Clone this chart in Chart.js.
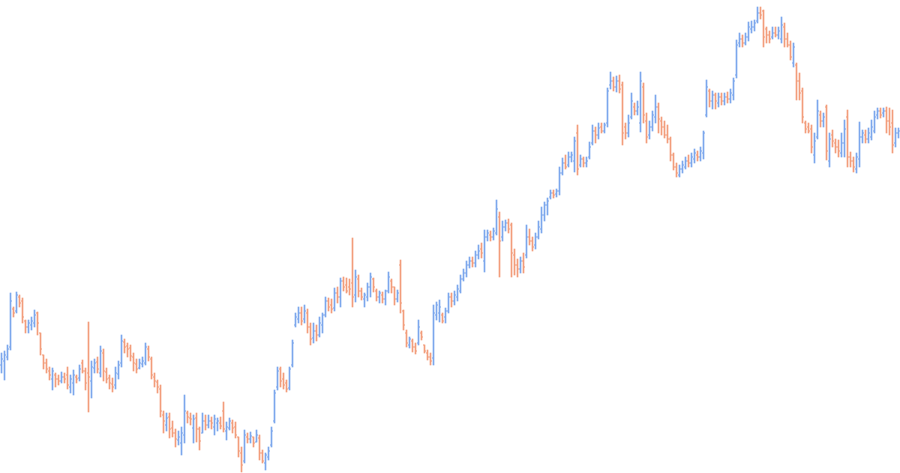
<!DOCTYPE html>
<html>
<head>
<meta charset="utf-8">
<script src="https://cdn.jsdelivr.net/npm/chart.js@4"></script>
<style>
  html, body { margin: 0; padding: 0; background: #fff; }
  #wrap { width: 900px; height: 473px; }
</style>
</head>
<body>
<div id="wrap"><canvas id="ohlc"></canvas></div>
<script>
'use strict'

// OHLC values, one bar per trading period
var opens = [
  108,112,116,126,164,162,176,172,152,146, 148,150,160,140,118,110,102,94,98,94,
  92,96,98,86,90,96,95,110,102,100, 92,105,111,100,120,101,95,89,88,99,
  110,131,127,125,116,109,105,109,110,124, 114,96,91,84,58,48,56,45,40,33,
  30,38,60,55,45,55,44,40,52,48, 52,46,50,50,62,42,45,50,46,36,
  20,12,36,34,36,31,35,20,10,16, 28,52,86,104,94,90,85,108,148,154,
  160,154,160,146,135,142,138,148,158,172, 168,165,180,176,192,188,186,190,178,194,
  182,174,176,186,194,182,176,178,174,182, 192,186,174,208,162,140,128,132,126,130,
  140,128,120,116,115,158,160,158,156,162, 176,172,176,182,194,200,208,212,210,218,
  224,212,236,238,236,240,256,236,246,250, 248,218,208,204,212,218,236,232,228,236,
  244,258,268,276,280,279,282,300,310,308, 316,312,340,308,314,310,316,330,342,338,
  346,342,350,388,392,386,392,388,346,340, 356,366,362,350,386,352,338,346,356,366,
  352,346,338,334,318,306,298,304,306,312, 310,314,318,316,320,358,382,372,378,370,
  376,372,376,374,378,398,430,434,430,436, 444,446,452,460,462,444,438,436,440,438,
  434,446,434,428,410,408,392,382,350,346, 344,318,336,358,352,366,312,338,330,326,
  320,330,356,316,312,304,314,336,338,334, 336,342,358,362,360,362,352,350,330,340
];
var highs = [
  120,122,128,180,166,181,178,175,153,153, 156,163,161,140,118,114,106,105,100,98,
  101,100,106,98,103,98,108,113,105,151, 112,114,116,127,124,105,98,95,106,112,
  138,134,130,128,120,114,114,116,130,127, 116,100,93,88,62,60,60,52,44,42,
  46,78,62,60,58,60,46,60,58,58, 56,58,55,56,71,51,55,53,51,36,
  26,43,40,41,36,43,38,23,20,26, 46,83,106,106,100,93,106,133,160,166,
  166,168,164,150,150,148,156,160,176,175, 174,185,186,195,196,195,194,235,203,198,
  185,180,190,200,195,184,182,181,183,201, 194,186,183,213,163,143,136,134,130,153,
  142,128,123,120,168,171,173,160,165,180, 180,182,188,198,204,212,216,216,222,228,
  230,243,243,242,245,273,261,252,253,254, 250,224,214,216,220,248,244,236,240,252,
  266,271,275,283,283,284,306,315,318,321, 321,336,348,318,316,316,331,348,346,350,
  350,350,385,401,396,397,398,391,350,358, 380,370,372,401,390,360,352,362,378,370,
  356,352,348,336,320,310,308,312,316,318, 320,324,322,326,342,393,384,382,380,380,
  380,380,381,384,395,433,440,438,440,451, 452,453,466,466,463,446,442,446,446,446,
  456,450,440,432,430,410,400,385,352,350, 348,340,373,362,360,368,340,343,334,333,
  340,353,363,321,316,320,351,343,343,345, 353,362,365,365,365,366,365,363,345,345
];
var lows = [
  100,93,113,123,156,160,166,150,140,140, 143,146,138,118,104,100,93,83,86,88,
  90,90,84,80,78,90,92,100,83,61, 75,100,100,96,92,90,84,81,84,94,
  106,120,116,112,102,100,104,106,108,112, 94,86,80,56,40,42,35,36,26,28,
  18,30,50,48,30,31,23,40,43,45, 44,38,42,44,41,33,43,40,35,16,
  1,10,30,30,26,31,13,10,3,13, 26,50,83,86,84,81,83,106,146,150,
  148,150,140,128,130,132,136,140,156,162, 160,162,170,166,182,180,178,166,171,176,
  173,166,172,176,181,172,170,170,168,180, 180,168,171,160,143,126,125,121,119,128,
  133,120,113,108,108,153,151,150,150,160, 166,168,172,180,192,196,205,206,206,214,
  215,201,232,232,233,238,196,232,242,240, 196,198,196,200,200,215,228,222,224,234,
  240,252,258,274,275,276,278,298,304,306, 311,301,298,306,306,306,314,328,330,334,
  340,340,346,384,382,381,380,328,334,336, 354,358,358,341,350,330,334,342,350,340,
  338,335,330,312,303,296,296,300,304,306, 306,310,312,312,314,356,366,364,364,366,
  368,368,370,370,373,395,426,426,428,432, 440,442,450,454,426,430,430,434,436,434,
  430,426,426,413,406,373,373,350,340,340, 320,310,334,346,346,313,306,326,320,316,
  316,316,306,306,301,300,306,330,330,330, 333,340,354,355,356,340,338,320,326,335
];
var closes = [
  114,118,124,172,160,178,170,156,146,150, 152,158,150,124,110,104,98,102,94,92,
  96,94,88,94,98,94,104,102,90,96, 106,110,104,122,102,94,90,86,100,108,
  132,126,124,117,110,104,110,112,126,116, 98,92,86,62,52,55,44,40,34,36,
  40,62,56,54,54,44,32,52,48,52, 50,54,52,47,44,46,52,45,38,22,
  8,38,34,37,30,38,20,12,18,22, 42,80,102,92,88,84,104,130,156,160,
  152,162,146,134,142,138,150,158,172,166, 164,180,176,192,186,182,184,176,196,182,
  176,178,186,196,186,176,180,174,182,196, 186,174,180,170,148,130,134,126,122,146,
  136,122,116,112,160,168,166,152,162,176, 172,178,184,194,200,208,212,210,218,222,
  220,236,240,236,242,264,232,246,250,244, 220,208,204,212,206,236,232,226,236,246,
  258,268,272,280,278,282,300,310,306,316, 318,332,304,314,310,312,326,342,338,345,
  342,348,382,392,386,392,384,340,340,350, 372,362,366,392,358,336,346,358,366,354,
  346,338,334,318,306,300,304,308,312,310, 316,320,316,322,340,386,372,378,372,376,
  372,376,374,380,392,428,434,430,436,446, 446,450,460,458,436,438,434,440,438,442,
  448,434,428,416,426,392,380,356,344,342, 326,332,362,352,356,322,334,332,326,322,
  330,344,316,312,306,316,336,340,334,340, 346,356,362,358,362,352,346,328,340,342
];

var upColor = '#7ba6ec';
var downColor = '#f29c7a';

// one category per bar, the axis itself is hidden
var periods = [];
for (let i = 0; i < closes.length; i++) {
  periods.push(i + 1);
}

var ranges = [];
var barColors = [];
for (let i = 0; i < closes.length; i++) {
  ranges.push([lows[i], highs[i]]);
  barColors.push(closes[i] >= opens[i] ? upColor : downColor);
}

//-------------Open / close ticks----------------// drawn with the chart's own scales
var ohlcTicks = {
  id: 'ohlcTicks',
  afterDatasetsDraw: function(chart) {
    let ctx = chart.ctx;
    let x = chart.scales.x;
    let y = chart.scales.y;
    ctx.save();
    for (let i = 0; i < closes.length; i++) {
      let xc = x.getPixelForValue(i);
      let yo = Math.round(y.getPixelForValue(opens[i]));
      let yc = Math.round(y.getPixelForValue(closes[i]));
      ctx.fillStyle = barColors[i];
      ctx.fillRect(xc - 1.5, yo - 0.5, 1.5, 1);
      ctx.fillRect(xc, yc - 0.5, 1.5, 1);
    }
    ctx.restore();
  }
};

new Chart(document.getElementById('ohlc'), {
  type: 'bar',
  data: {
    labels: periods,
    datasets: [{
      data: ranges,
      backgroundColor: barColors,
      borderWidth: 0,
      barThickness: 1,
      borderSkipped: false
    }]
  },
  options: {
    responsive: true,
    maintainAspectRatio: false,
    animation: false,
    layout: { padding: 0 },
    plugins: {
      legend: { display: false },
      tooltip: { enabled: false }
    },
    scales: {
      x: { display: false, offset: true, grid: { display: false } },
      y: { display: false, min: 0, max: 473, grid: { display: false } }
    }
  },
  plugins: [ohlcTicks]
});
</script>
</body>
</html>
